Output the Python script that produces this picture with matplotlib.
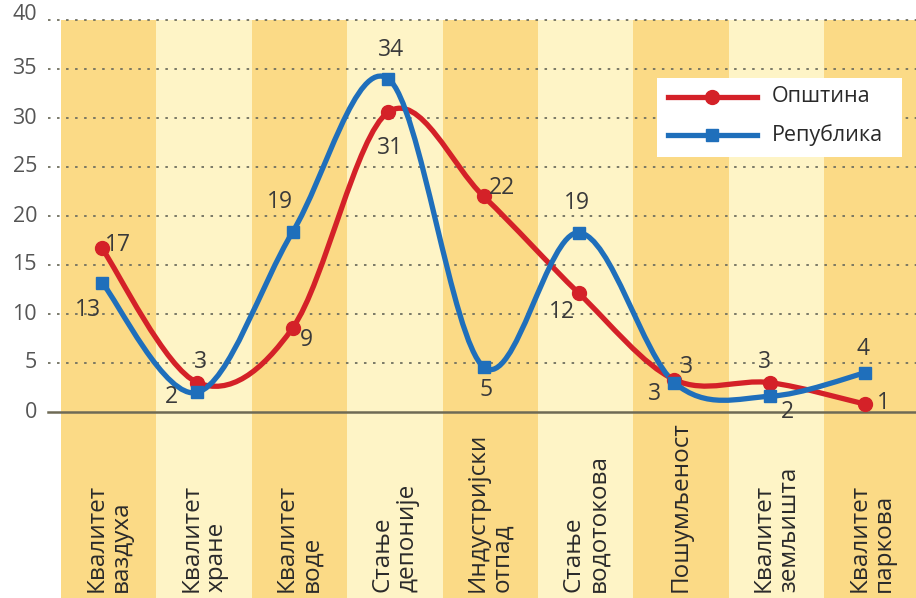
import matplotlib.pyplot as plt
from matplotlib.path import Path
from matplotlib.patches import PathPatch, Rectangle

plt.rcParams['font.family'] = ['Open Sans', 'DejaVu Sans']

# ======================
# DATA
# ======================
categories = ["Квалитет\nваздуха", "Квалитет\nхране", "Квалитет\nводе",
              "Стање\nдепоније", "Индустријски\nотпад", "Стање\nводотокова",
              "Пошумљеност", "Квалитет\nземљишта", "Квалитет\nпаркова"]
opstina = [16.7, 3.0, 8.6, 30.6, 22.0, 12.1, 3.3, 3.0, 0.8]
republika = [13.2, 2.0, 18.4, 34.0, 4.6, 18.3, 3.0, 1.6, 4.0]
opstina_lbl = ["17", "3", "9", "31", "22", "12", "3", "3", "1"]
republika_lbl = ["13", "2", "19", "34", "5", "19", "3", "2", "4"]
yticks = [0, 5, 10, 15, 20, 25, 30, 35, 40]

RED = "#d42128"
BLUE = "#1f6fbb"
DARK = "#fbda86"
LIGHT = "#fef4c6"
TXT = "#3a3a3a"

# label offsets in pixels (dx, dy)
off_op = [(16, 3), (3, 21), (14, -12), (2, -36), (18, 8), (-17, -19), (12, 13), (-5, 21), (18, 1)]
off_rep = [(-14, -27), (-26, -5), (-13, 30), (3, 29), (2, -23), (-2, 30), (-20, -11), (18, -16), (-2, 24)]


def smooth_path(xs, ys):
    # Catmull-Rom segments as cubic Bezier curves
    pts = list(zip(xs, ys))
    n = len(pts)
    verts = [pts[0]]
    codes = [Path.MOVETO]
    for i in range(n - 1):
        p0 = pts[i - 1] if i > 0 else pts[i]
        p1 = pts[i]
        p2 = pts[i + 1]
        p3 = pts[i + 2] if i + 2 < n else pts[i + 1]
        c1 = (p1[0] + (p2[0] - p0[0]) / 6, p1[1] + (p2[1] - p0[1]) / 6)
        c2 = (p2[0] - (p3[0] - p1[0]) / 6, p2[1] - (p3[1] - p1[1]) / 6)
        verts += [c1, c2, p2]
        codes += [Path.CURVE4] * 3
    return Path(verts, codes)


# ======================
# FIGURE
# ======================
W, H = 916, 598
fig = plt.figure(figsize=(W / 100, H / 100), dpi=100)
ax = fig.add_axes([0, 0, 1, 1])
ax.set_axis_off()

# pixel mapping: x_px = 102 + 95.4*i ; y_px(from top) = 412 - 9.8*v
xpx0, xstep = 102, 95.4
ypx0, ystep = 412, 9.8
ax.set_xlim((0 - xpx0) / xstep, (W - xpx0) / xstep)
ax.set_ylim((ypx0 - H) / ystep, ypx0 / ystep)
ybot = (ypx0 - H) / ystep

x = list(range(len(categories)))

# column backgrounds
for i in x:
    ax.add_patch(Rectangle((i - 0.43, ybot), 1.0, 40 - ybot,
                           facecolor=DARK if i % 2 == 0 else LIGHT,
                           edgecolor="none", zorder=0))

# grid
xl = (48 - xpx0) / xstep
xr = (W - xpx0) / xstep
for v in yticks:
    if v == 0:
        ax.plot([xl, xr], [0, 0], color="#6e6a55", lw=1.8, zorder=1)
    else:
        ax.plot([xl, xr], [v, v], color="#707060", lw=1.3,
                linestyle=(0, (1.4, 3.6)), zorder=1)
    ax.text((37 - xpx0) / xstep, v + (0.6 if v == 40 else 0), str(v),
            ha="right", va="center", fontsize=15.5, color="#555555")

# lines
for ys, col in [(opstina, RED), (republika, BLUE)]:
    ax.add_patch(PathPatch(smooth_path(x, ys), facecolor="none",
                           edgecolor=col, lw=3.8, zorder=3,
                           capstyle="round", joinstyle="round"))
ax.plot(x, opstina, "o", color=RED, ms=10, zorder=4)
ax.plot(x, republika, "s", color=BLUE, ms=8.5, zorder=5)

# value labels
for i in x:
    ax.annotate(opstina_lbl[i], (i, opstina[i]),
                xytext=(off_op[i][0] * 0.72, off_op[i][1] * 0.72),
                textcoords="offset points", ha="center", va="center",
                fontsize=16.5, color=TXT, zorder=6)
    ax.annotate(republika_lbl[i], (i, republika[i]),
                xytext=(off_rep[i][0] * 0.72, off_rep[i][1] * 0.72),
                textcoords="offset points", ha="center", va="center",
                fontsize=16.5, color=TXT, zorder=6)

# category labels
ylab = (ypx0 - 592) / ystep
for i, c in enumerate(categories):
    ax.text(i + 0.07, ylab, c, rotation=90, ha="center", va="bottom",
            multialignment="left", fontsize=17.5, color="#2a2a2a",
            linespacing=1.05)

# legend (manual)
fx = lambda px: px / W
fy = lambda py: 1 - py / H
ax.add_patch(Rectangle((fx(657), fy(157)), fx(902) - fx(657), fy(78) - fy(157),
                       transform=ax.transAxes, facecolor="white",
                       edgecolor="none", zorder=7))
for py, col, mk, ms, name in [(97, RED, "o", 10, "Општина"),
                              (135, BLUE, "s", 8.5, "Република")]:
    ax.plot([fx(668), fx(757)], [fy(py), fy(py)], color=col, lw=3.8,
            transform=ax.transAxes, zorder=8)
    ax.plot([fx(712)], [fy(py)], mk, color=col, ms=ms,
            transform=ax.transAxes, zorder=9)
    ax.text(fx(772), fy(py), name, transform=ax.transAxes, ha="left",
            va="center", fontsize=15.5, color="#2a2a2a", zorder=9)

fig.savefig("out.png", dpi=100)
